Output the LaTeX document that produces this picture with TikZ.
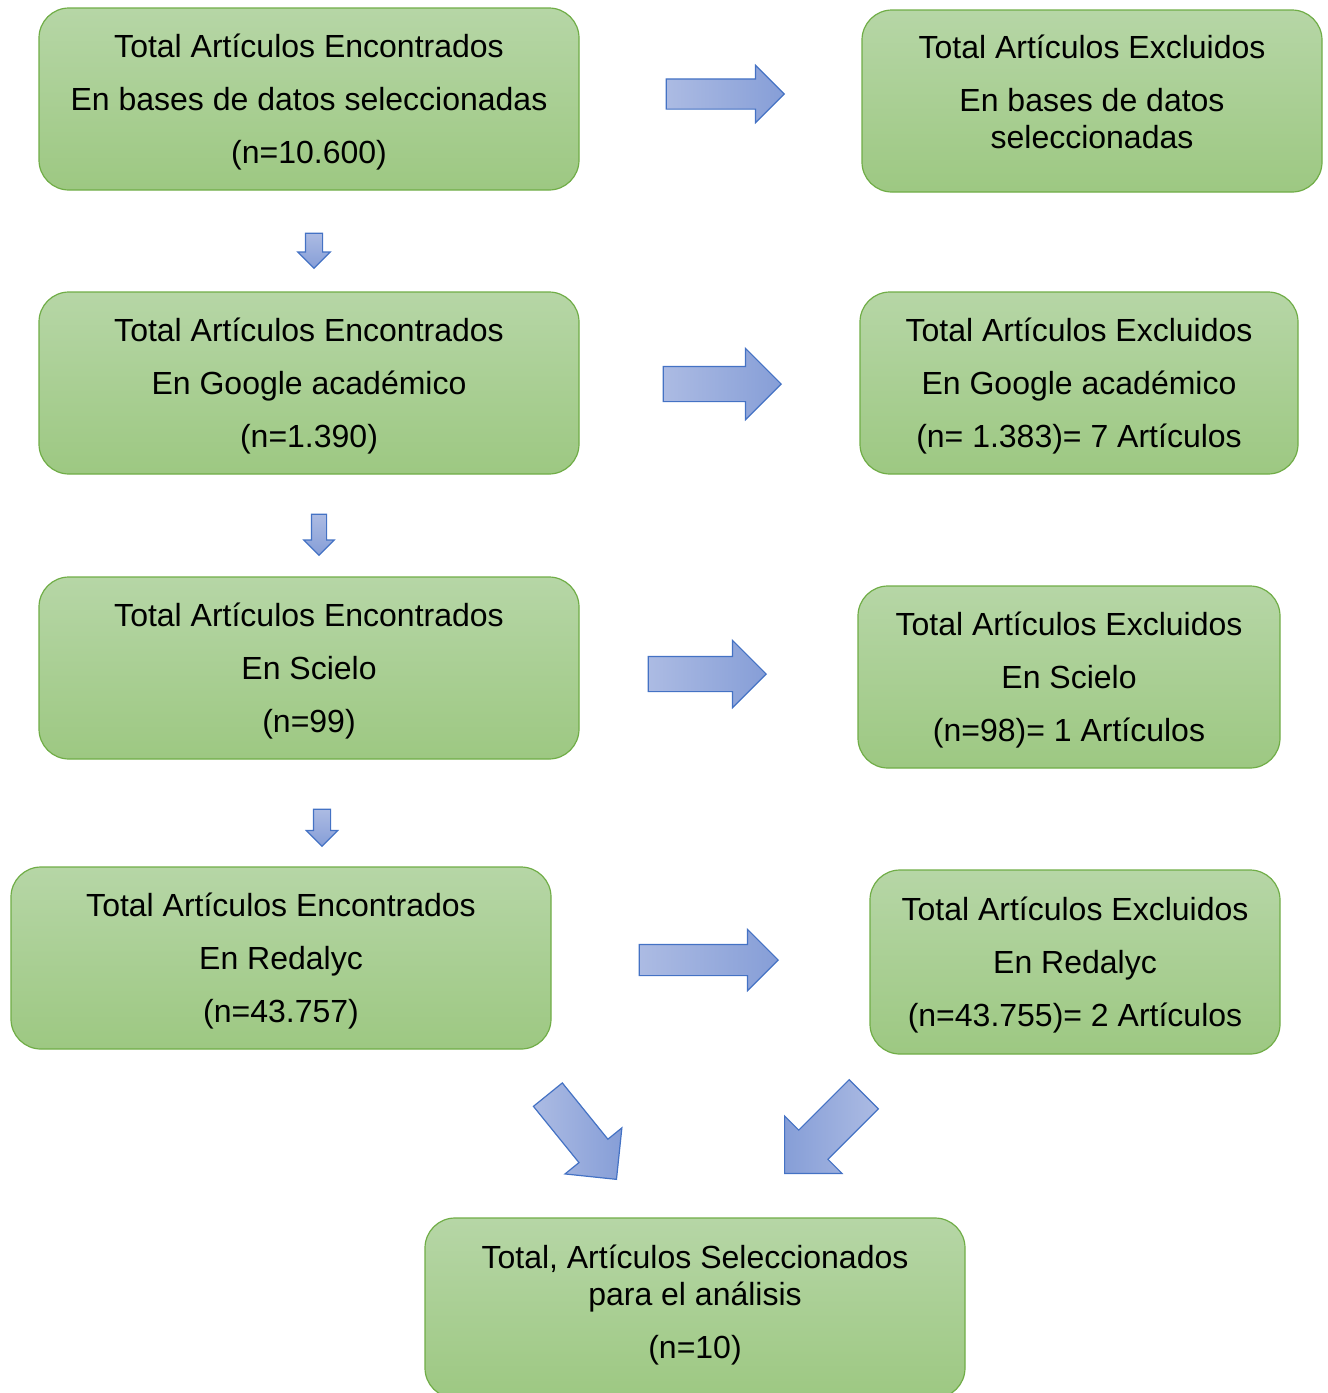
\documentclass[tikz,border=0pt]{standalone}
\usepackage{fontspec}
\setmainfont{Liberation Sans}
\usetikzlibrary{positioning, shapes.arrows}

\definecolor{boxtop}{RGB}{182,214,166}
\definecolor{boxbot}{RGB}{157,200,130}
\definecolor{boxline}{RGB}{112,173,71}
\definecolor{arrowlight}{RGB}{172,187,227}
\definecolor{arrowdark}{RGB}{134,158,215}
\definecolor{arrowline}{RGB}{68,114,196}

\begin{document}
\begin{tikzpicture}[x=0.5pt, y=-0.5pt,
  box/.style={rectangle, rounded corners=15pt, draw=boxline, line width=0.6pt, top color=boxtop, bottom color=boxbot, align=center, inner sep=0pt, minimum height=91pt, text depth=0.6pt, font=\fontsize{16}{26.5}\selectfont},
  blockarrow/.style={single arrow, anchor=tip, draw=arrowline, line width=0.6pt, left color=arrowlight, right color=arrowdark, inner sep=0pt, minimum width=0pt}]
\useasboundingbox (0,0) rectangle (1328,1393);

% found
\node[box, minimum width=270pt] (enc1) at (309,99) {Total Artículos Encontrados\\En bases de datos seleccionadas\\(n=10.600)};
\node[box, minimum width=270pt] (enc2) at (309,383) {Total Artículos Encontrados\\En Google académico\\(n=1.390)};
\node[box, minimum width=270pt] (enc3) at (309,668) {Total Artículos Encontrados\\En Scielo\\(n=99)};
\node[box, minimum width=270pt] (enc4) at (281,958) {Total Artículos Encontrados\\En Redalyc\\(n=43.757)};

% excluded
\node[box, minimum width=230pt, text depth=9pt] (exc1) at (1092,101) {Total Artículos Excluidos\\En bases de datos\\[-8pt]seleccionadas};
\node[box, minimum width=219pt] (exc2) at (1079,383) {Total Artículos Excluidos\\En Google académico\\(n= 1.383)= 7 Artículos};
\node[box, minimum width=211pt] (exc3) at (1069,677) {Total Artículos Excluidos\\En Scielo\\(n=98)= 1 Artículos};
\node[box, minimum width=205pt, minimum height=92pt] (exc4) at (1075,962) {Total Artículos Excluidos\\En Redalyc\\(n=43.755)= 2 Artículos};

% selected
\node[box, minimum width=270pt, minimum height=90pt, text depth=6.5pt] (sel) at (695,1308) {Total, Artículos Seleccionados\\[-8pt]para el análisis\\(n=10)};

% right arrows
\node[blockarrow, inner ysep=7.25pt, single arrow head extend=6.75pt, minimum height=59pt] (r1) at (785,94) {};
\node[blockarrow, inner ysep=8.5pt, single arrow head extend=9pt, minimum height=59pt] (r2) at (782,384) {};
\node[blockarrow, inner ysep=8.5pt, single arrow head extend=8pt, minimum height=59pt] (r3) at (767,674) {};
\node[blockarrow, inner ysep=7.5pt, single arrow head extend=7.5pt, minimum height=69.5pt] (r4) at (779,960) {};

% down arrows
\node[blockarrow, rotate=-90, top color=arrowlight, bottom color=arrowdark, inner ysep=4pt, single arrow head extend=3.75pt, minimum height=17.5pt] (d1) at (314,269) {};
\node[blockarrow, rotate=-90, top color=arrowlight, bottom color=arrowdark, inner ysep=3.5pt, single arrow head extend=3.75pt, minimum height=20.5pt] (d2) at (319,556) {};
\node[blockarrow, rotate=-90, top color=arrowlight, bottom color=arrowdark, inner ysep=4pt, single arrow head extend=3.5pt, minimum height=18.5pt] (d3) at (322,847) {};

% towards the result
\node[blockarrow, rotate=-51, inner ysep=9pt, single arrow head extend=9pt, minimum height=54.5pt] (m1) at (617,1180) {};
\node[blockarrow, rotate=-135, left color=arrowdark, right color=arrowlight, inner ysep=10pt, single arrow head extend=10pt, minimum height=56pt] (m2) at (784,1174) {};
\end{tikzpicture}
\end{document}
